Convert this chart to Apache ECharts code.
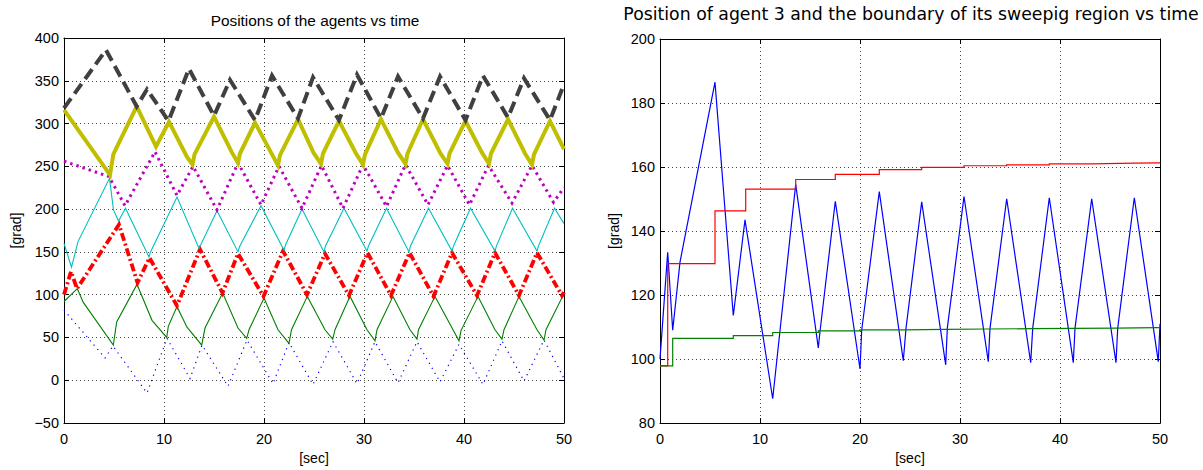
<!DOCTYPE html>
<html><head><meta charset="utf-8">
<script src="https://cdn.jsdelivr.net/npm/echarts@6/dist/echarts.min.js"></script>
<style>html,body{margin:0;padding:0;background:#fff}#c{width:1203px;height:470px}</style>
</head><body><div id="c"></div>
<script>
// ---------- Data (left chart: positions of the agents, [sec, grad]) ----------
const leftTitle = 'Positions of the agents vs time';
const rightTitle = 'Position of agent 3 and the boundary of its sweepig region vs time';
const xName = '[sec]';
const yName = '[grad]';

const agentBlue = [[0,82],[4.1,26],[4.9,40],[8.3,-15],[10.3,49],[12.6,2],[13.8,41],[16.4,-7],[18.3,47],[20.9,-4],[22.5,44],[24.9,-5],[26.9,45],[29.3,-4],[31.1,45],[33.4,-3],[35.3,45],[37.6,-2],[39.5,42],[41.9,-5],[43.8,46],[46.0,-1],[48.0,47],[50,2]];
const agentGreen = [[0,92],[1.33,107],[1.93,91],[4.93,41],[5.27,68],[7.3,112],[8.8,70],[10.27,50],[10.43,63],[11.3,86],[12.3,62],[13.77,41],[14.1,61],[15.87,102],[17.4,61],[18.27,49],[18.5,59],[20.0,96],[21.4,59],[22.5,43],[22.75,59],[24.33,98],[26.1,59],[26.87,48],[27.1,59],[28.6,98],[30.3,59],[31.1,46],[31.3,59],[32.9,98],[34.6,59],[35.3,48],[35.45,59],[37.1,98],[38.9,59],[39.5,46],[39.7,58],[41.4,98],[43.1,59],[43.8,48],[44.0,59],[45.5,98],[47.3,59],[48.0,47],[48.2,59],[49.9,99],[50,98]];
const agentRed = [[0,100],[0.7,127],[1.3,107],[5.5,182],[7.35,114],[8.55,143],[11.3,87],[13.6,153],[15.85,102],[17.4,148],[19.95,98],[21.9,151],[24.3,100],[26.1,148],[28.5,99],[30.35,149],[32.7,99],[34.55,149],[36.95,98],[38.8,149],[41.3,99],[43.1,149],[45.5,99],[47.3,149],[49.8,99],[50,103]];
const agentCyan = [[0,160],[0.75,132],[1.4,162],[4.55,236],[4.95,199],[5.45,186],[6.15,201],[8.5,144],[8.65,150],[11.3,214],[13.5,154],[15.3,198],[17.4,150],[17.55,156],[19.7,204],[22.0,152],[22.15,158],[23.8,200],[26.0,150],[26.15,157],[28.0,201],[30.3,151],[30.45,157],[32.25,201],[34.5,150],[34.65,157],[36.45,201],[38.8,151],[38.95,157],[40.65,201],[43.1,151],[43.25,157],[44.85,201],[47.3,151],[47.45,157],[49.05,201],[50,183]];
const agentMagenta = [[0,256],[4.5,238],[6.1,204],[9.1,267],[11.3,216],[12.9,250],[15.3,199],[17.4,254],[19.7,205],[21.5,250],[23.8,201],[25.75,251],[27.9,201],[29.9,252],[32.25,203],[34.15,252],[36.4,205],[38.35,251],[40.55,205],[42.45,251],[44.8,207],[46.8,251],[48.95,208],[50,225]];
const agentYellow = [[0,316],[4.6,240],[4.93,264],[7.27,320],[9.2,273],[10.5,302],[12.3,261],[12.85,252],[13.05,264],[15.0,308],[16.8,266],[17.4,254],[17.6,265],[19.1,301],[20.8,264],[21.4,251],[21.6,263],[23.4,305],[24.95,266],[25.7,253],[25.9,265],[27.5,303],[29.2,265],[29.9,252],[30.1,264],[31.7,305],[33.4,266],[34.15,253],[34.35,265],[35.9,305],[37.65,265],[38.35,253],[38.55,265],[40.15,303],[41.8,266],[42.5,253],[42.7,265],[44.4,305],[46.1,265],[46.8,252],[47.0,264],[48.6,303],[50,270]];
const agentDark = [[0,318],[4.2,386],[7.27,320],[8.3,340],[10.45,303],[12.5,364],[15.0,309],[16.6,351],[19.1,304],[20.8,356],[23.4,306],[24.9,354],[27.5,304],[29.3,357],[31.7,306],[33.4,355],[35.9,306],[37.6,355],[40.15,304],[41.9,356],[44.4,307],[46.0,353],[48.6,304],[50,346]];

// ---------- Data (right chart: agent 3 and its region boundaries) ----------
const agent3Pos = [[0,100],[0.77,133.4],[1.27,109],[2.0,130.3],[5.5,186.5],[7.33,113.6],[8.5,143.5],[11.27,87.6],[13.57,154.6],[15.83,103.5],[16.0,108.6],[17.53,149.3],[20.0,96.9],[20.17,109],[21.93,152.3],[24.33,99.5],[24.6,109.6],[26.17,149.1],[28.57,98.2],[28.73,109.6],[30.4,150.8],[32.83,99.2],[33.0,109.6],[34.67,150.1],[37.07,98.9],[37.27,109.6],[38.93,150.4],[41.33,98.9],[41.5,109.6],[43.17,150.1],[45.6,98.9],[45.77,109.6],[47.43,150.4],[49.83,99.2],[50,111]];
const upperBound = [[0,97.9],[0.77,129.8],[5.5,146.3],[8.57,153.1],[13.57,156.1],[17.53,157.7],[21.93,159.2],[26.17,159.9],[30.4,160.4],[34.67,160.7],[38.93,161.0],[43.17,161.2],[47.43,161.3],[50,161.3]];
const lowerBound = [[0,97.9],[1.27,106.5],[7.33,107.3],[11.27,108.3],[15.83,108.8],[20.0,109.1],[24.33,109.3],[28.57,109.4],[32.83,109.5],[37.07,109.6],[41.33,109.7],[45.6,109.8],[49.83,109.9],[50,109.9]];

// ---------- Axis ranges ----------
const xRange = {min: 0, max: 50, interval: 10};
const yLeftRange = {min: -50, max: 400, interval: 50};
const yRightRange = {min: 80, max: 200, interval: 20};

const FONT = 'Liberation Sans';
const AXC = '#000';
const gridLine = {show: true, lineStyle: {type: [1, 3], color: '#444', width: 1}};
const fmt = v => String(v).replace('-', '\u2212');

function mainX(gi, nameGap) {
  return Object.assign({type: 'value', gridIndex: gi, position: 'bottom', name: xName, nameLocation: 'middle', nameGap: nameGap,
    nameTextStyle: {fontFamily: FONT, fontSize: 14, color: '#000'},
    axisLine: {show: true, onZero: false, lineStyle: {color: AXC, width: 1}},
    axisTick: {show: true, inside: true, length: 5, lineStyle: {color: AXC}},
    axisLabel: {fontFamily: FONT, fontSize: 14.5, color: '#000', margin: 8, formatter: fmt},
    splitLine: gridLine}, xRange);
}
function mirrorX(gi) {
  return Object.assign({type: 'value', gridIndex: gi, position: 'top',
    axisLine: {show: true, onZero: false, lineStyle: {color: AXC, width: 1}},
    axisTick: {show: true, inside: true, length: 5, lineStyle: {color: AXC}},
    axisLabel: {show: false}, splitLine: {show: false}}, xRange);
}
function mainY(gi, range, nameGap) {
  return Object.assign({type: 'value', gridIndex: gi, position: 'left', name: yName, nameLocation: 'middle', nameGap: nameGap,
    nameRotate: 90,
    nameTextStyle: {fontFamily: FONT, fontSize: 14, color: '#000'},
    axisLine: {show: true, onZero: false, lineStyle: {color: AXC, width: 1}},
    axisTick: {show: true, inside: true, length: 5, lineStyle: {color: AXC}},
    axisLabel: {fontFamily: FONT, fontSize: 14.5, color: '#000', margin: 5, formatter: fmt},
    splitLine: gridLine}, range);
}
function mirrorY(gi, range) {
  return Object.assign({type: 'value', gridIndex: gi, position: 'right',
    axisLine: {show: true, onZero: false, lineStyle: {color: AXC, width: 1}},
    axisTick: {show: true, inside: true, length: 5, lineStyle: {color: AXC}},
    axisLabel: {show: false}, splitLine: {show: false}}, range);
}
function line(data, xi, yi, color, width, type, step) {
  const s = {type: 'line', data: data, xAxisIndex: xi, yAxisIndex: yi, showSymbol: false, symbol: 'none',
    lineStyle: {color: color, width: width, type: type, cap: 'butt', join: 'miter'}, animation: false, silent: true};
  if (step) s.step = step;
  return s;
}

const option = {
  animation: false,
  backgroundColor: '#fff',
  title: [
    {text: leftTitle, left: 315, top: 13, textAlign: 'center', padding: 0,
     textStyle: {fontFamily: FONT, fontSize: 15.4, fontWeight: 'normal', color: '#000'}},
    {text: rightTitle, left: 911, top: 5, textAlign: 'center', padding: 0,
     textStyle: {fontFamily: 'DejaVu Sans', fontSize: 17.3, fontWeight: 'normal', color: '#000'}}
  ],
  grid: [
    {left: 64, top: 38, width: 500, height: 385, containLabel: false},
    {left: 660, top: 39, width: 500, height: 395, containLabel: false}
  ],
  xAxis: [mainX(0, 27), mainX(1, 20), mirrorX(0), mirrorX(1)],
  yAxis: [mainY(0, yLeftRange, 41), mainY(1, yRightRange, 39), mirrorY(0, yLeftRange), mirrorY(1, yRightRange)],
  series: [
    line(agentBlue, 0, 0, '#0000FF', 1.2, [1.2, 4.5]),
    line(agentGreen, 0, 0, '#008000', 1.1, 'solid'),
    line(agentRed, 0, 0, '#FF0000', 3.8, [8, 3, 2, 3]),
    line(agentCyan, 0, 0, '#00BFBF', 1.1, 'solid'),
    line(agentMagenta, 0, 0, '#BF00BF', 3, [2.5, 4]),
    line(agentYellow, 0, 0, '#BFBF00', 4, 'solid'),
    line(agentDark, 0, 0, '#404040', 4, [12, 6]),
    line(agent3Pos, 1, 1, '#0000FF', 1.2, 'solid'),
    line(upperBound, 1, 1, '#FF0000', 1.2, 'solid', 'end'),
    line(lowerBound, 1, 1, '#008000', 1.2, 'solid', 'end')
  ]
};
const chart = echarts.init(document.getElementById('c'), null, {renderer: 'svg'});
chart.setOption(option);
</script>
</body></html>
